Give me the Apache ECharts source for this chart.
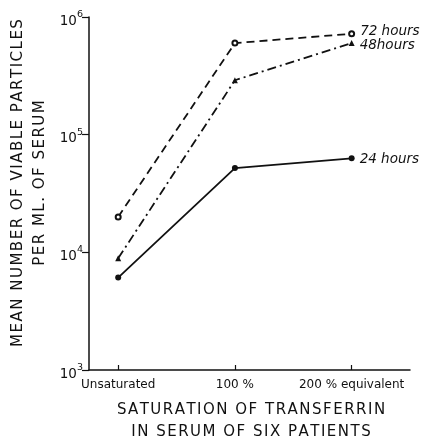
<!DOCTYPE html>
<html><head><meta charset="utf-8">
<script src="https://cdn.jsdelivr.net/npm/echarts@6/dist/echarts.min.js"></script>
<style>html,body{margin:0;padding:0;background:#fff}#c{width:421px;height:441px}</style>
</head><body><div id="c"></div>
<script>
const categories = ['Unsaturated', '100 %', '200 % equivalent'];
const yTicks = [1000, 10000, 100000, 1000000];
const h72 = [20000, 600000, 720000];
const h48 = [8900, 290000, 600000];
const h24 = [6100, 52000, 63000];
const seriesNames = ['72 hours', '48hours', '24 hours'];

function spaced(s) { return s.split('').join('\u200A'); }
function mk(vals, name, dy) {
  return vals.map((v, i) => {
    const d = {value: [i, v]};
    if (i === vals.length - 1) d.label = {show: true, formatter: name, position: 'right', distance: 5, offset: [0, dy],
      fontStyle: 'italic', fontSize: 13.5, color: '#111', fontFamily: 'DejaVu Sans'};
    return d;
  });
}
const chart = echarts.init(document.getElementById('c'));
const titleFont = {fontFamily: 'DejaVu Sans', fontSize: 15, fill: '#111'};
chart.setOption({
  animation: false,
  grid: {left: 89, top: 17, right: 11, bottom: 71},
  xAxis: {
    type: 'value', min: -0.25, max: 2.5,
    splitLine: {show: false},
    axisLine: {onZero: false, lineStyle: {color: '#111', width: 1.5}},
    axisTick: {inside: true, length: 5, customValues: [0, 1, 2], lineStyle: {color: '#111', width: 1.2}},
    axisLabel: {customValues: [0, 1, 2], formatter: v => categories[Math.round(v)], color: '#111',
      fontSize: 12, fontFamily: 'DejaVu Sans', margin: 9}
  },
  yAxis: {
    type: 'log', min: 1000, max: 1000000, logBase: 10,
    splitLine: {show: false},
    axisLine: {show: true, onZero: false, lineStyle: {color: '#111', width: 1.5}},
    axisTick: {show: true, length: 7, lineStyle: {color: '#111', width: 1.2}},
    minorTick: {show: false},
    axisLabel: {
      color: '#111', fontFamily: 'DejaVu Sans', fontSize: 13, margin: 6,
      formatter: v => { const e = Math.round(Math.log10(v)); return '{b|10}{s|' + e + '}'; },
      rich: {b: {fontSize: 13.5, color: '#111', fontFamily: 'DejaVu Sans', padding: [8, 0, 0, 0]},
             s: {fontSize: 9.5, color: '#111', fontFamily: 'DejaVu Sans', padding: [0, 0, 5, 0]}}
    }
  },
  graphic: [
    {type: 'text', x: 18, y: 183, rotation: Math.PI / 2, style: Object.assign({text: spaced('MEAN NUMBER OF VIABLE PARTICLES'), align: 'center', verticalAlign: 'middle'}, titleFont)},
    {type: 'text', x: 40, y: 183, rotation: Math.PI / 2, style: Object.assign({text: spaced('PER ML. OF SERUM'), align: 'center', verticalAlign: 'middle'}, titleFont)},
    {type: 'text', x: 251, y: 410, style: Object.assign({text: spaced('SATURATION OF TRANSFERRIN'), align: 'center', verticalAlign: 'middle'}, titleFont)},
    {type: 'text', x: 251, y: 432, style: Object.assign({text: spaced('IN SERUM OF SIX PATIENTS'), align: 'center', verticalAlign: 'middle'}, titleFont)}
  ],
  series: [
    {type: 'line', name: seriesNames[0], data: mk(h72, seriesNames[0], -2), symbol: 'emptyCircle', symbolSize: 5,
      lineStyle: {color: '#111', width: 1.8, type: [8, 5]}, itemStyle: {color: '#111', borderWidth: 1}},
    {type: 'line', name: seriesNames[1], data: mk(h48, seriesNames[1], 2), symbol: 'triangle', symbolSize: 6,
      lineStyle: {color: '#111', width: 1.8, type: [9, 4, 2, 4]}, itemStyle: {color: '#111'}},
    {type: 'line', name: seriesNames[2], data: mk(h24, seriesNames[2], 1), symbol: 'circle', symbolSize: 6,
      lineStyle: {color: '#111', width: 1.8}, itemStyle: {color: '#111'}}
  ]
});
</script></body></html>
